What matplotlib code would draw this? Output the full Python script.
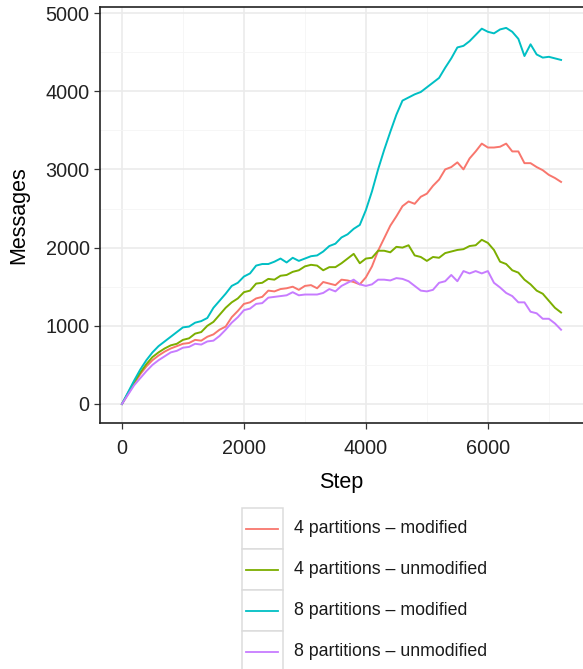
import matplotlib
matplotlib.use("Agg")
import matplotlib.pyplot as plt
from matplotlib.lines import Line2D
from matplotlib.patches import Rectangle

plt.rcParams['font.family'] = ['Liberation Sans', 'DejaVu Sans']

steps = list(range(0, 7201, 100))

p4_modified = [0, 130, 260, 380, 480, 560, 620, 670, 710, 740,
               770, 780, 820, 810, 860, 890, 950, 990, 1110, 1190,
               1280, 1300, 1350, 1370, 1450, 1440, 1470, 1480, 1500, 1460,
               1510, 1520, 1480, 1560, 1540, 1520, 1590, 1580, 1560, 1530,
               1620, 1760, 1960, 2120, 2280, 2400, 2530, 2590, 2560, 2650,
               2690, 2790, 2870, 3000, 3030, 3090, 3000, 3140, 3230, 3330,
               3280, 3280, 3290, 3330, 3230, 3230, 3080, 3080, 3030, 2990,
               2930, 2890, 2840]

p4_unmodified = [0, 140, 280, 400, 510, 600, 660, 710, 750, 770,
                 820, 840, 900, 920, 1000, 1050, 1140, 1230, 1300, 1350,
                 1430, 1450, 1540, 1550, 1600, 1590, 1640, 1650, 1690, 1710,
                 1760, 1780, 1770, 1710, 1750, 1750, 1800, 1860, 1920, 1800,
                 1860, 1870, 1960, 1960, 1940, 2010, 2000, 2030, 1900, 1880,
                 1830, 1880, 1870, 1930, 1950, 1970, 1980, 2020, 2030, 2100,
                 2060, 1970, 1820, 1790, 1710, 1680, 1590, 1530, 1450, 1410,
                 1320, 1230, 1170]

p8_modified = [0, 150, 300, 440, 560, 660, 740, 800, 860, 920,
               980, 990, 1040, 1060, 1100, 1230, 1320, 1410, 1510, 1550,
               1630, 1670, 1770, 1790, 1790, 1820, 1860, 1810, 1870, 1830,
               1860, 1890, 1900, 1950, 2020, 2050, 2130, 2170, 2240, 2290,
               2480, 2720, 3000, 3250, 3480, 3700, 3880, 3920, 3960, 3990,
               4050, 4110, 4170, 4300, 4420, 4560, 4580, 4640, 4720, 4800,
               4760, 4740, 4790, 4810, 4760, 4670, 4450, 4600, 4470, 4430,
               4440, 4420, 4400]

p8_unmodified = [0, 120, 240, 330, 420, 500, 560, 610, 660, 680,
                 720, 730, 770, 760, 800, 810, 870, 950, 1040, 1110,
                 1200, 1220, 1280, 1290, 1360, 1370, 1380, 1390, 1430, 1390,
                 1400, 1400, 1400, 1420, 1470, 1440, 1510, 1550, 1590, 1530,
                 1510, 1530, 1590, 1590, 1580, 1610, 1600, 1570, 1510, 1450,
                 1440, 1460, 1550, 1570, 1650, 1570, 1700, 1670, 1700, 1670,
                 1700, 1550, 1490, 1420, 1380, 1300, 1300, 1180, 1160, 1090,
                 1090, 1030, 950]

labels = ["4 partitions \u2013 modified", "4 partitions \u2013 unmodified",
          "8 partitions \u2013 modified", "8 partitions \u2013 unmodified"]
series = [p4_modified, p4_unmodified, p8_modified, p8_unmodified]
colors = ["#F8766D", "#7CAE00", "#00BFC4", "#C77CFF"]

W, H = 583, 669
fig = plt.figure(figsize=(W / 100, H / 100), dpi=100)
ax = fig.add_axes([100 / W, 1 - 423 / H, (583 - 100) / W, (423 - 7) / H])

for vals, c, lab in zip(series, colors, labels):
    ax.plot(steps, vals, color=c, lw=1.4, label=lab, zorder=3)

ax.set_xlim(-360, 7560)
ax.set_ylim(-243, 5077)
ax.set_xticks([0, 2000, 4000, 6000])
ax.set_yticks([0, 1000, 2000, 3000, 4000, 5000])
ax.set_xticks([1000, 3000, 5000, 7000], minor=True)
ax.set_yticks([500, 1500, 2500, 3500, 4500], minor=True)
ax.grid(which='major', color='#ebebeb', lw=1.2, zorder=0)
ax.grid(which='minor', color='#f5f5f5', lw=0.6, zorder=0)
ax.tick_params(which='minor', length=0)
ax.tick_params(which='major', length=4.5, width=0.9, color='#333333',
               labelsize=14.3, labelcolor='#222222', pad=3)
ax.tick_params(axis='x', which='major', pad=7)
for s in ['left', 'bottom', 'top']:
    ax.spines[s].set_color('#222222')
    ax.spines[s].set_linewidth(1.2)
ax.spines['right'].set_visible(False)
ax.set_axisbelow(True)

ax.set_xlabel("Step", fontsize=15.5, labelpad=10)
ax.set_ylabel("Messages", fontsize=15.5, labelpad=12)

def fx(px):
    return px / W

def fy(py):
    return 1 - py / H

box_tops = [508, 549, 590, 631]
for top, c, lab in zip(box_tops, colors, labels):
    fig.add_artist(Rectangle((fx(241.5), fy(top + 41)), 41 / W, 41 / H,
                             transform=fig.transFigure, facecolor='white',
                             edgecolor='#dcdcdc', lw=1.1))
    yc = fy(top + 20.5)
    fig.add_artist(Line2D([fx(246), fx(278)], [yc, yc], color=c, lw=1.3,
                          transform=fig.transFigure))
    fig.text(fx(294), yc, lab, fontsize=12.8, va='center', ha='left',
             color='#1a1a1a')

fig.savefig("out.png", dpi=100)
